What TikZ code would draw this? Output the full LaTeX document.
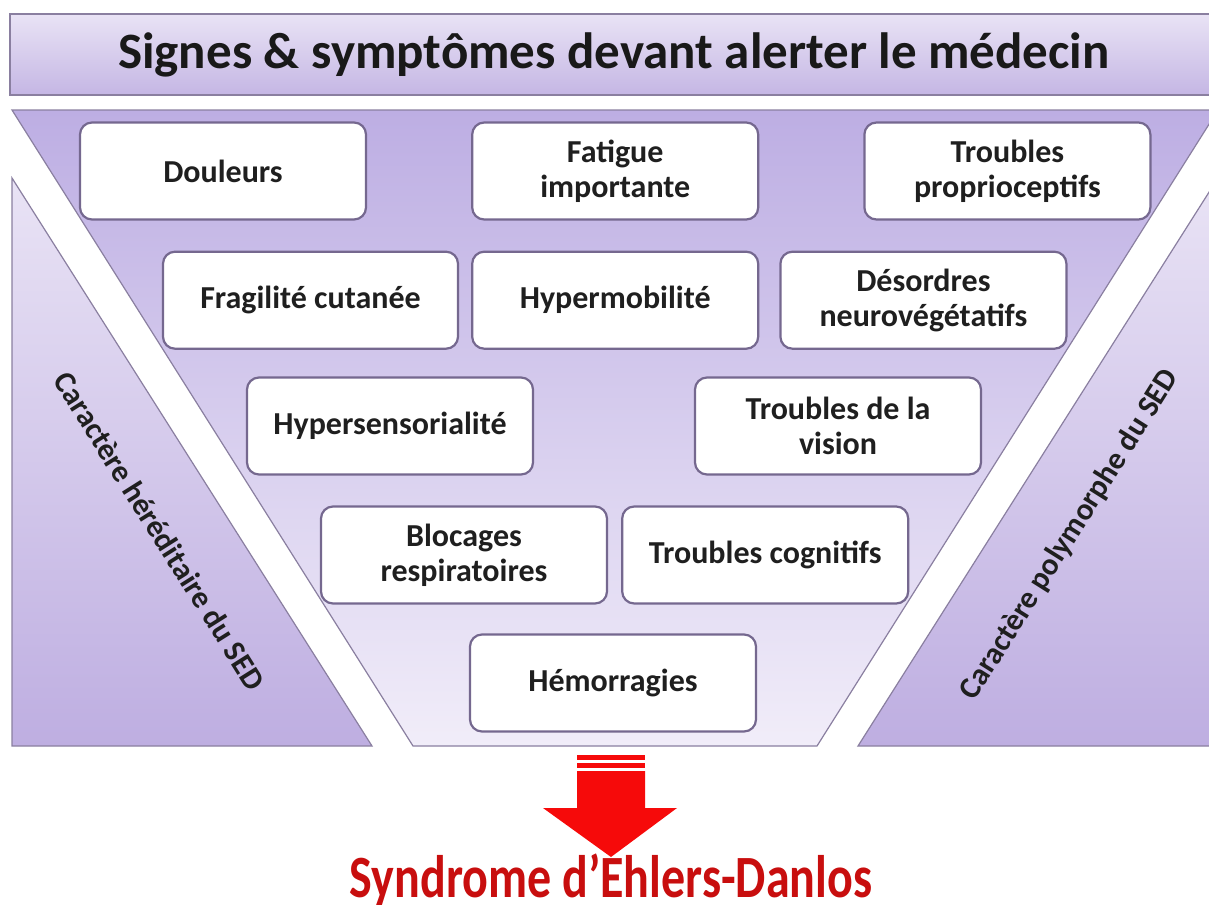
\documentclass[tikz,border=0pt]{standalone}
\usepackage{fontspec}
\setmainfont{Carlito}
\usetikzlibrary{positioning}
\definecolor{edgepurple}{HTML}{75688F}
\definecolor{funneltop}{HTML}{BDAEE3}
\definecolor{funnelbot}{HTML}{F1EDF9}
\definecolor{sidetop}{HTML}{E9E3F5}
\definecolor{sidebot}{HTML}{BEAEE1}
\definecolor{alertred}{HTML}{F60A0A}
\definecolor{titlered}{HTML}{C80E0E}

\begin{document}
\begin{tikzpicture}[x=1bp,y=-1bp,
      node distance=30bp and 104bp,
      symptom/.style={draw=edgepurple,line width=2.2bp,fill=white,
                      rounded corners=12bp,align=center,inner sep=6bp,
                      minimum width=286bp,minimum height=97bp,
                      font=\fontsize{32bp}{35bp}\selectfont\bfseries,
                      text=black!88},
      band/.style={draw=edgepurple!85,line width=1.2bp},
      sidelabel/.style={font=\fontsize{31bp}{34bp}\selectfont\bfseries,
                        text=black!88}]
    \useasboundingbox (0,0) rectangle (1209,905);
    \clip (0,0) rectangle (1209,905);

    % title bar and funnel
    \draw[band,top color=sidetop,bottom color=sidebot!90] (10,14) rectangle (1230,95);
    \node[font=\fontsize{51bp}{56bp}\selectfont\bfseries,text=black!90] (title)
      at (614,55) {Signes \& symptômes devant alerter le médecin};
    \draw[band,top color=funneltop,bottom color=funnelbot]
      (12,110) -- (1218,110) -- (817,746) -- (413,746) -- cycle;
    \draw[band,top color=sidetop,bottom color=sidebot]
      (12,178) -- (372,746) -- (12,746) -- cycle;
    \draw[band,top color=sidetop,bottom color=sidebot]
      (1218,178) -- (858,746) -- (1230,746) -- (1230,178) -- cycle;
    \node[sidelabel,rotate=-57.8] (hered) at (160,531) {Caractère héréditaire du SED};
    \node[sidelabel,rotate=57.8] (poly) at (1070,535) {Caractère polymorphe du SED};

    % symptoms
    \node[symptom] (douleurs) at (223,171) {Douleurs};
    \node[symptom,right=of douleurs] (fatigue) {Fatigue\\importante};
    \node[symptom,right=of fatigue] (proprio) {Troubles\\proprioceptifs};

    \node[symptom,below=of fatigue] (hypermob) {Hypermobilité};
    \node[symptom,minimum width=295bp,left=12bp of hypermob] (fragil) {Fragilité cutanée};
    \node[symptom,right=20bp of hypermob] (neuro) {Désordres\\neurovégétatifs};

    \node[symptom] (hypersens) at (390,426) {Hypersensorialité};
    \node[symptom] (vision) at (838,426) {Troubles de la\\vision};

    \node[symptom] (blocages) at (464,555) {Blocages\\respiratoires};
    \node[symptom,right=13bp of blocages] (cognitif) {Troubles cognitifs};

    \node[symptom] (hemo) at (613,683) {Hémorragies};

    % arrow to the diagnosis
    \fill[alertred] (577,755) rectangle (645,760);
    \fill[alertred] (577,763) rectangle (645,768);
    \fill[alertred] (577,771) -- (645,771) -- (645,808) -- (677,808)
      -- (611,857) -- (543,808) -- (577,808) -- cycle;
    \node[anchor=base,inner sep=0pt,font=\fontsize{48bp}{52bp}\selectfont\bfseries,
          text=titlered] (sed)
      at (611,897) {\scalebox{1}[1.25]{Syndrome d’Ehlers-Danlos}};
  \end{tikzpicture}
\end{document}
